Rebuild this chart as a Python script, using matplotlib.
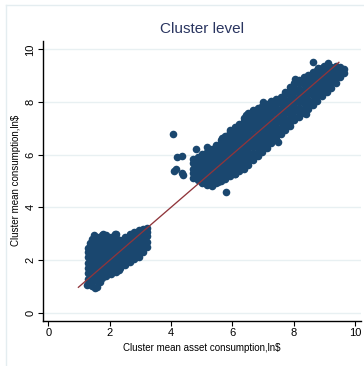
import numpy as np
import matplotlib
matplotlib.use("Agg")
from matplotlib import pyplot as plt
from matplotlib.lines import Line2D

plt.rcParams['font.family'] = ['Liberation Sans Narrow', 'Liberation Sans', 'DejaVu Sans']

# lower cloud, read column by column (x, then the y values in that column)
lower_col_x = [1.28, 1.43, 1.58, 1.74, 1.89, 2.04, 2.2, 2.35, 2.5, 2.65, 2.8, 2.95, 3.09, 3.2]
lower_col_y = [
    [1.08, 1.27, 1.49, 1.7, 1.88, 2.1, 2.29, 2.47],
    [1.02, 1.21, 1.4, 1.61, 1.79, 2.01, 2.19, 2.41, 2.6, 2.78],
    [0.98, 1.18, 1.39, 1.57, 1.78, 1.95, 2.15, 2.33, 2.53, 2.7, 2.87],
    [1.31, 1.47, 1.67, 1.83, 2.03, 2.2, 2.39, 2.55, 2.75, 2.93],
    [1.37, 1.57, 1.73, 1.93, 2.1, 2.29, 2.46, 2.63, 2.83, 2.95],
    [1.46, 1.63, 1.83, 2.0, 2.19, 2.35, 2.55, 2.71, 2.89],
    [1.54, 1.74, 1.9, 2.1, 2.26, 2.46, 2.62, 2.82, 2.98],
    [1.68, 1.85, 2.05, 2.21, 2.41, 2.58, 2.76],
    [1.79, 1.99, 2.15, 2.35, 2.51, 2.7, 2.86],
    [1.91, 2.1, 2.29, 2.45, 2.65, 2.81, 2.97],
    [2.03, 2.19, 2.39, 2.55, 2.75, 2.91, 3.06],
    [2.12, 2.31, 2.47, 2.67, 2.83, 3.02, 3.15],
    [2.29, 2.45, 2.65, 2.81, 3.0, 3.17],
    [2.5, 2.69, 2.9, 3.08],
]

# upper cloud, same layout
upper_col_x = [4.72, 4.87, 5.02, 5.17, 5.32, 5.47, 5.62, 5.77, 5.92, 6.07, 6.22,
               6.37, 6.52, 6.67, 6.82, 6.97, 7.12, 7.27, 7.42, 7.57, 7.72, 7.87,
               8.02, 8.17, 8.32, 8.47, 8.62, 8.77, 8.92, 9.07, 9.22, 9.37, 9.52, 9.62]
upper_col_y = [
    [5.12, 5.31, 5.47, 5.67, 5.84],
    [5.02, 5.19, 5.4, 5.56, 5.76, 5.93],
    [4.93, 5.11, 5.27, 5.48, 5.64, 5.84, 6.02],
    [4.86, 5.02, 5.21, 5.37, 5.57, 5.73, 5.93, 6.11],
    [4.83, 5.01, 5.16, 5.36, 5.52, 5.72, 5.88, 6.08, 6.23],
    [4.92, 5.11, 5.27, 5.47, 5.63, 5.83, 5.99, 6.19, 6.35],
    [5.0, 5.17, 5.37, 5.53, 5.73, 5.89, 6.09, 6.25, 6.45, 6.56],
    [5.09, 5.25, 5.45, 5.61, 5.81, 5.97, 6.17, 6.33, 6.53, 6.71],
    [5.18, 5.37, 5.53, 5.73, 5.89, 6.09, 6.25, 6.45, 6.61, 6.81, 6.93],
    [5.27, 5.44, 5.64, 5.8, 6.0, 6.16, 6.36, 6.52, 6.72, 6.88, 7.04],
    [5.38, 5.57, 5.73, 5.93, 6.09, 6.29, 6.45, 6.65, 6.81, 7.01, 7.17],
    [5.47, 5.67, 5.83, 6.03, 6.19, 6.39, 6.55, 6.75, 6.91, 7.11, 7.27, 7.41],
    [5.62, 5.77, 5.95, 6.11, 6.31, 6.47, 6.67, 6.83, 7.03, 7.19, 7.39, 7.57],
    [5.8, 5.94, 6.08, 6.28, 6.44, 6.64, 6.8, 7.0, 7.16, 7.36, 7.52, 7.68],
    [5.95, 6.08, 6.25, 6.41, 6.61, 6.77, 6.97, 7.13, 7.33, 7.49, 7.67, 7.79],
    [6.1, 6.25, 6.39, 6.59, 6.75, 6.95, 7.11, 7.31, 7.47, 7.67, 7.84],
    [6.26, 6.39, 6.55, 6.71, 6.91, 7.07, 7.27, 7.43, 7.63, 7.79, 7.94],
    [6.43, 6.56, 6.68, 6.88, 7.04, 7.24, 7.4, 7.6, 7.76, 7.96, 8.04],
    [6.59, 6.7, 6.85, 7.01, 7.21, 7.37, 7.57, 7.73, 7.93, 8.1],
    [6.78, 6.9, 7.03, 7.23, 7.39, 7.59, 7.75, 7.95, 8.11, 8.21],
    [6.93, 7.05, 7.21, 7.37, 7.57, 7.73, 7.93, 8.09, 8.29, 8.37],
    [7.1, 7.25, 7.39, 7.59, 7.75, 7.95, 8.11, 8.31, 8.47, 8.56],
    [7.3, 7.45, 7.65, 7.81, 8.01, 8.17, 8.37, 8.53, 8.72],
    [7.44, 7.63, 7.79, 7.99, 8.15, 8.35, 8.51, 8.71, 8.84],
    [7.58, 7.75, 7.95, 8.11, 8.31, 8.47, 8.67, 8.83, 8.94],
    [7.74, 7.93, 8.09, 8.29, 8.45, 8.65, 8.81, 9.01],
    [7.88, 8.05, 8.25, 8.41, 8.61, 8.77, 8.97, 9.13],
    [8.04, 8.23, 8.39, 8.59, 8.75, 8.95, 9.11, 9.21],
    [8.22, 8.39, 8.59, 8.75, 8.95, 9.11, 9.28],
    [8.38, 8.57, 8.73, 8.93, 9.09, 9.29, 9.34],
    [8.54, 8.71, 8.91, 9.07, 9.27, 9.35],
    [8.74, 8.93, 9.09, 9.29, 9.36],
    [8.94, 9.11, 9.23, 9.34],
    [9.12, 9.27],
]

# scattered points around the edges of the clouds
stray_x = [4.07, 4.18, 4.35, 4.09, 4.16, 4.37, 4.40, 4.80, 5.16, 5.65, 5.92,
           5.79, 5.32, 5.54, 6.08, 6.73, 8.04, 8.16, 8.61, 8.80, 9.10, 9.19,
           6.44, 7.0, 7.48, 8.4, 9.0,
           1.25, 1.52, 1.36, 1.79, 2.17, 1.48, 3.22, 2.3, 1.7]
stray_y = [6.78, 5.92, 5.96, 5.38, 5.44, 5.29, 5.23, 6.22, 6.28, 6.65, 6.87,
           4.59, 4.82, 4.97, 5.26, 5.96, 8.87, 8.80, 9.54, 9.29, 9.47, 9.25,
           7.52, 8.0, 6.48, 7.56, 9.36,
           1.04, 0.92, 2.66, 2.97, 2.97, 2.95, 3.2, 1.6, 1.16]

# fitted line end points
fit_x = [0.98, 9.47]
fit_y = [0.96, 9.51]

xticks = [0, 2, 4, 6, 8, 10]
yticks = [0, 2, 4, 6, 8, 10]

navy = '#1a476f'
maroon = '#90353b'

lx = [x for x, ys in zip(lower_col_x, lower_col_y) for _ in ys]
ly = [y for ys in lower_col_y for y in ys]
ux = [x for x, ys in zip(upper_col_x, upper_col_y) for _ in ys]
uy = [y for ys in upper_col_y for y in ys]
pts_x = np.array(lx + ux + stray_x)
pts_y = np.array(ly + uy + stray_y)

fig = plt.figure(figsize=(3.64, 3.66), dpi=100)
fig.patch.set_facecolor('white')

# light outer frame of the graph region
fig.add_artist(Line2D([6 / 364, 6 / 364], [0, 1 - 5 / 366], color='#e4edf0', lw=1))
fig.add_artist(Line2D([6 / 364, 1], [1 - 5 / 366, 1 - 5 / 366], color='#e4edf0', lw=1))

ax = fig.add_axes([42.5 / 364, (366 - 320.7) / 366, (361 - 42.5) / 364, (320.7 - 41) / 366])
ax.set_xlim(-0.19, 10.19)
ax.set_ylim(-0.31, 10.32)

ax.scatter(pts_x, pts_y, s=30, color=navy, linewidths=0, zorder=3)
ax.plot(fit_x, fit_y, color=maroon, lw=0.95, zorder=4)

ax.set_xticks(xticks)
ax.set_yticks(yticks)
ax.set_yticklabels([str(v) for v in yticks], rotation=90, va='center')
ax.tick_params(axis='both', direction='out', length=3.5, width=0.8, labelsize=8,
               colors='black', pad=1.5)
ax.yaxis.grid(True, color='#e8f0f2', lw=1)
ax.xaxis.grid(False)
ax.set_axisbelow(True)

for side in ['top', 'right']:
    ax.spines[side].set_visible(False)
for side in ['left', 'bottom']:
    ax.spines[side].set_linewidth(1)
    ax.spines[side].set_color('black')

ax.set_title('Cluster level', fontsize=11, color='#2a3560', pad=6)
ax.set_xlabel('Cluster mean asset consumption,ln$', fontsize=7, labelpad=4)
ax.set_ylabel('Cluster mean consumption,ln$', fontsize=7, labelpad=3)

fig.savefig('out.png', dpi=100)
